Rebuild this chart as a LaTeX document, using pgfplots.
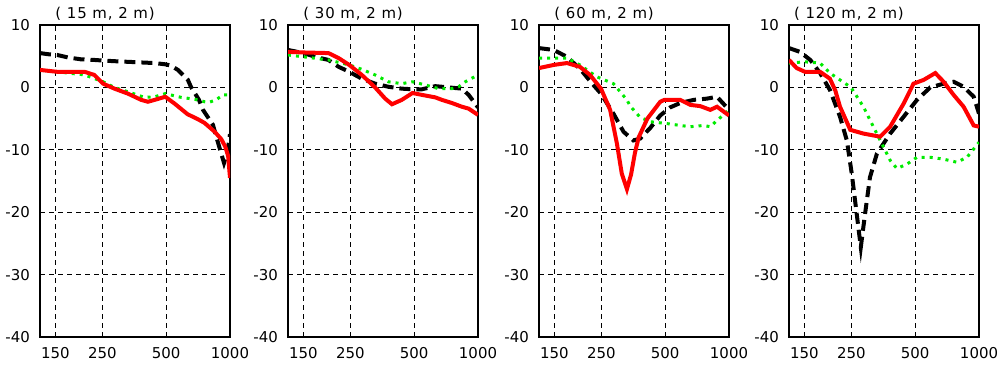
\documentclass[border=0pt]{standalone}
\usepackage{fontspec}
\setmainfont{DejaVu Sans}
\usepackage{pgfplots}
\pgfplotsset{compat=1.18}
\definecolor{lgreen}{RGB}{0,235,0}
\tikzset{
 blk/.style={black, line width=4bp, dash pattern=on 11bp off 6bp},
 rd/.style={red, line width=4bp},
 gr/.style={lgreen, line width=3bp, dash pattern=on 3bp off 5bp},
}
\pgfplotsset{every axis/.append style={
   scale only axis, width=190bp, height=312bp,
   xmin=127, xmax=1000, ymin=-40, ymax=10,
   xtick={150,250,500,1000}, xticklabels={150,250,500,1000},
   minor xtick={},
   ytick={-40,-30,-20,-10,0,10}, yticklabels={-40,-30,-20,-10,0,10},
   grid=major, major grid style={black, line width=1.1bp, dash pattern=on 5bp off 4bp},
   major tick length=0pt,
   axis line style={line width=2bp},
   tick label style={font=\fontsize{15}{15}\selectfont, inner sep=0pt},
   xticklabel shift=10bp, yticklabel shift=10bp,
}}
\newcommand{\ttl}[2]{\node[anchor=base east, inner sep=0pt, font=\fontsize{15}{15}\selectfont\addfontfeatures{LetterSpace=6}] at ([xshift=115bp,yshift=7bp]#1.north west) {#2};}
\begin{document}
\begin{tikzpicture}
\useasboundingbox (0,0) rectangle (998bp,365bp);
% Panel 1
\begin{axis}[xmode=log, anchor=south west, name=p1, at={(40bp,28bp)}]
\addplot[blk] coordinates {(127,5.5)(140,5.3)(153,5.2)(172,4.8)(198,4.5)(229,4.4)(252,4.3)(285,4.2)(330,4.1)(381,4.0)(441,3.9)(495,3.7)(526,3.5)(568,2.8)(633,1.2)(654,0.1)(714,-2.0)(746,-3.6)(831,-6.0)(860,-7.8)(907,-10.5)(937,-12.1)(970,-10.5)(1000,-7.5)};
\addplot[gr] coordinates {(127,2.8)(153,2.5)(206,2.0)(252,0.9)(285,0.0)(330,-0.7)(395,-1.6)(441,-1.5)(495,-1.0)(589,-1.6)(681,-1.9)(759,-2.3)(796,-2.4)(859,-2.0)(927,-1.2)(1000,-1.2)};
\addplot[rd] coordinates {(127,2.8)(153,2.5)(206,2.5)(229,2.0)(252,0.6)(285,-0.2)(330,-1.0)(381,-2.0)(410,-2.3)(441,-2.0)(495,-1.5)(548,-2.6)(631,-4.3)(706,-5.1)(759,-5.7)(846,-7.1)(910,-8.3)(950,-9.5)(980,-11)(1000,-14.5)};
\end{axis}
\ttl{p1}{( 15 m, 2 m)}
% Panel 2
\begin{axis}[xmode=log, anchor=south west, name=p2, at={(288bp,28bp)}]
\addplot[blk] coordinates {(127,6.0)(150,5.5)(171,4.9)(197,4.4)(220,3.3)(247,2.5)(283,1.4)(327,0.6)(378,0.1)(437,-0.2)(491,-0.3)(544,-0.3)(629,0.2)(727,0.0)(840,-0.2)(903,-1.2)(950,-2.2)(1000,-3.2)};
\addplot[gr] coordinates {(127,5.2)(150,4.9)(197,4.4)(247,3.6)(283,2.9)(327,2.0)(378,0.9)(437,0.6)(491,0.9)(564,0.4)(652,-0.2)(753,-0.2)(810,0.1)(871,0.9)(1000,2.0)};
\addplot[rd] coordinates {(127,5.7)(150,5.6)(197,5.5)(220,4.7)(247,3.6)(283,2.0)(327,0.0)(365,-1.8)(393,-2.7)(437,-2.0)(491,-0.9)(544,-1.2)(629,-1.6)(676,-2.0)(753,-2.5)(840,-3.1)(903,-3.4)(1000,-4.4)};
\end{axis}
\ttl{p2}{( 30 m, 2 m)}
% Panel 3
\begin{axis}[xmode=log, anchor=south west, name=p3, at={(539bp,28bp)}]
\addplot[blk] coordinates {(127,6.3)(149,6.0)(172,4.9)(198,3.0)(229,0.4)(249,-1.0)(285,-4.2)(318,-7.1)(354,-8.5)(381,-8.2)(425,-6.5)(474,-4.5)(528,-3.2)(589,-2.5)(681,-2.0)(787,-1.8)(878,-1.5)(1000,-3.6)};
\addplot[gr] coordinates {(127,4.7)(172,4.7)(198,3.6)(238,1.7)(285,0.6)(330,-2.0)(342,-3.0)(381,-4.8)(425,-5.5)(510,-5.8)(589,-6.1)(657,-6.3)(759,-6.1)(816,-6.3)(878,-5.3)(1000,-3.6)};
\addplot[rd] coordinates {(127,3.1)(149,3.6)(172,3.9)(198,3.3)(221,2.0)(249,-0.2)(275,-3.6)(296,-9.0)(312,-13.8)(330,-16.3)(345,-14.0)(360,-10.5)(375,-8.0)(412,-5.0)(474,-2.3)(495,-2.0)(589,-2.0)(657,-2.8)(732,-3.0)(816,-3.6)(878,-3.1)(1000,-4.5)};
\end{axis}
\ttl{p3}{( 60 m, 2 m)}
% Panel 4
\begin{axis}[xmode=log, anchor=south west, name=p4, at={(789bp,28bp)}]
\addplot[blk] coordinates {(127,6.3)(143,5.7)(160,4.4)(178,2.3)(198,-0.4)(221,-4.7)(238,-8.5)(251,-13.8)(265,-20.3)(277,-25.6)(290,-20.3)(306,-14.4)(330,-10.6)(381,-7.4)(441,-4.7)(510,-2.0)(589,0.0)(681,0.6)(759,0.9)(846,0.1)(944,-1.5)(1000,-4.2)};
\addplot[gr] coordinates {(127,3.9)(151,4.1)(178,3.9)(198,2.3)(249,0.0)(285,-3.1)(342,-8.5)(381,-11.7)(410,-13.0)(457,-12.3)(510,-11.2)(589,-11.2)(681,-11.5)(787,-12.0)(878,-11.2)(1000,-8.8)};
\addplot[rd] coordinates {(127,4.4)(138,3.1)(151,2.5)(178,2.5)(198,1.4)(210,-0.5)(221,-3.1)(247,-6.8)(285,-7.4)(342,-7.9)(381,-6.3)(441,-2.6)(491,0.6)(548,1.2)(622,2.3)(681,0.9)(759,-1.2)(846,-3.1)(944,-6.1)(1000,-6.3)};
\end{axis}
\ttl{p4}{( 120 m, 2 m)}
\end{tikzpicture}
\end{document}
